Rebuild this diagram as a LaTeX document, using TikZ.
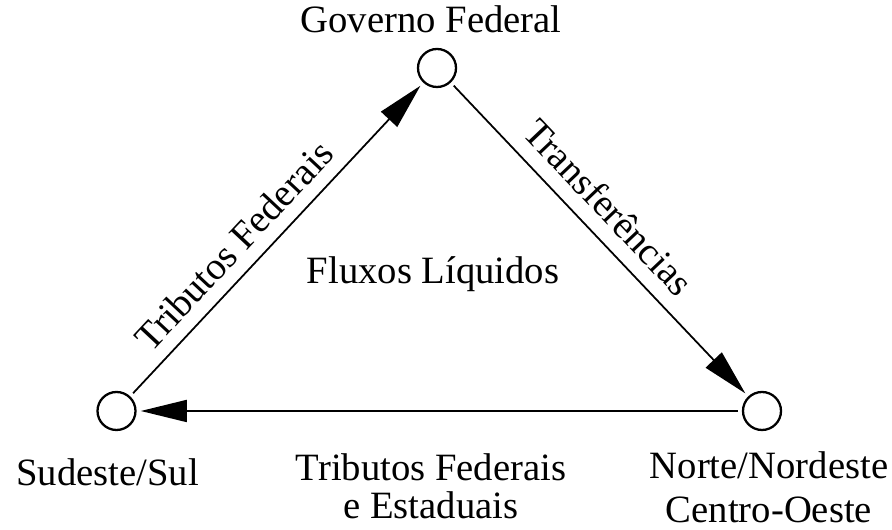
\documentclass[tikz,border=0pt]{standalone}
\usepackage{fontspec}
\setmainfont{Liberation Serif}
\usetikzlibrary{arrows.meta}

\begin{document}
\begin{tikzpicture}[font=\fontsize{22}{20}\selectfont]

\useasboundingbox (0, 0) rectangle (17.84, 10.6);

\begin{scope}[every node/.style={circle,draw,line width=1.3pt,minimum size=0.76cm,inner sep=0pt,outer sep=3pt}]
    \node (gov) at (8.74, 9.24) {};
    \node (sul) at (2.33, 2.38) {};
    \node (norte) at (15.24, 2.38) {};
\end{scope}

\begin{scope}[every node/.style={inner sep=0pt,anchor=north,align=center}]
    \node (govlabel) at (8.62, 10.5) {Governo Federal};
    \node (sullabel) at (2.15, 1.44) {Sudeste/Sul};
    \node (nortelabel) at (15.38, 1.58) {Norte/Nordeste\\[5pt]Centro-Oeste};
    \node (tributos) at (8.62, 1.54) {Tributos Federais\\[2pt]e Estaduais};
    \node (fluxos) at (8.66, 5.48) {Fluxos Líquidos};
\end{scope}

\begin{scope}[>={Triangle[length=0.92cm,width=0.44cm]},
              every edge/.style={draw,line width=1pt}]
    \path [->] (sul) edge node[sloped,above=4pt,pos=0.42] {Tributos Federais} (gov);
    \path [->] (gov) edge node[sloped,above=5pt,pos=0.46] {Transferências} (norte);
    \path [->] (norte) edge node {} (sul);
\end{scope}

\end{tikzpicture}
\end{document}
